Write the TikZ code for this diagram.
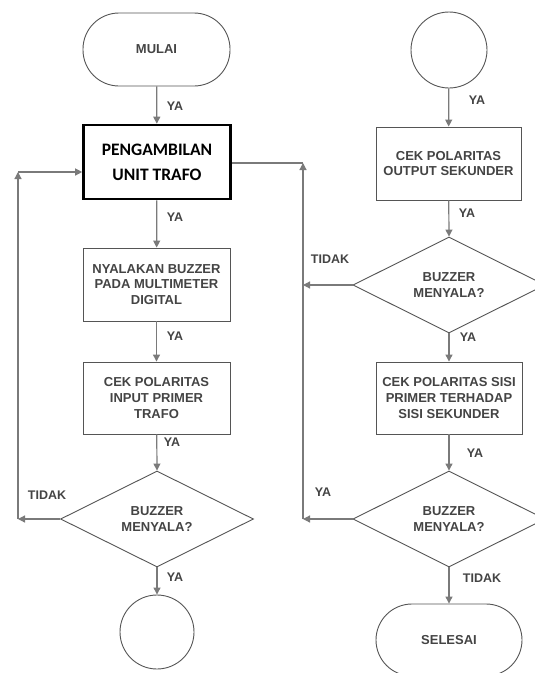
\documentclass[tikz,border=0pt]{standalone}
\usepackage{fontspec}
\setmainfont{Liberation Sans}
\newfontfamily\pengfont{Carlito}
\usetikzlibrary{shapes.geometric,arrows.meta}
\definecolor{txtgray}{HTML}{444444}
\definecolor{linegray}{HTML}{7A7A7A}
\definecolor{boxgray}{HTML}{555555}
\tikzset{
  procbox/.style={draw=boxgray, line width=0.9pt, minimum width=147pt, minimum height=73pt, inner sep=0pt,
    align=center, text=txtgray, font=\bfseries\fontsize{13}{15.7}\selectfont},
  termbox/.style={procbox, rounded corners=36pt},
  decbox/.style={draw=boxgray, line width=0.9pt, diamond, minimum width=193pt, minimum height=96pt, inner sep=0pt,
    align=center, text=txtgray, font=\bfseries\fontsize{13}{15.7}\selectfont},
  connbox/.style={draw=boxgray, line width=0.9pt, circle, minimum size=75pt, inner sep=0pt},
  flow/.style={draw=linegray, line width=1.2pt, -{Triangle[length=7pt,width=7pt]}},
  plain/.style={draw=linegray, line width=1.2pt},
  lbl/.style={text=txtgray, font=\bfseries\fontsize{12.5}{14}\selectfont, inner sep=0pt}
}
\begin{document}
\begin{tikzpicture}[x=1pt,y=-1pt]
\useasboundingbox (0,0) rectangle (535,673);
\fill[white] (0,0) rectangle (535,673);
% left column
\node[termbox] (mulai) at (156.5,49.5) {MULAI};
\node[draw=black, line width=2.6pt, minimum width=147pt, minimum height=74pt, inner sep=0pt, align=center,
  font=\pengfont\bfseries\fontsize{17.5}{25}\selectfont] (peng) at (157,162) {PENGAMBILAN\\UNIT TRAFO};
\node[procbox] (nyal) at (156.5,284.5) {NYALAKAN BUZZER\\PADA MULTIMETER\\DIGITAL};
\node[procbox, minimum height=72pt] (cekin) at (156.5,398) {CEK POLARITAS\\INPUT PRIMER\\TRAFO};
\node[decbox] (dia1) at (157,519) {BUZZER\\MENYALA?};
\node[connbox, minimum size=74pt] (circ1) at (157,632) {};
% right column
\node[connbox, minimum size=76pt] (circ2) at (449,50) {};
\node[procbox, minimum width=145pt] (cekout) at (448.5,163.5) {CEK POLARITAS\\OUTPUT SEKUNDER};
\node[decbox, minimum width=192pt] (dia2) at (449,285) {BUZZER\\MENYALA?};
\node[procbox, minimum width=146pt, minimum height=72pt] (ceksisi) at (449,398) {CEK POLARITAS SISI\\PRIMER TERHADAP\\SISI SEKUNDER};
\node[decbox, minimum width=192pt] (dia3) at (449,519) {BUZZER\\MENYALA?};
\node[termbox, minimum width=146pt, minimum height=72pt] (selesai) at (449,640) {SELESAI};
% coordinates for loops
\coordinate (L1) at (18,519);
\coordinate (L2) at (18,172);
\coordinate (R1) at (303,285);
\coordinate (R2) at (303,163);
\coordinate (R3) at (303,519);
% left flow
\draw[flow] (mulai) -- (peng);
\draw[flow] (peng) -- (nyal);
\draw[flow] (nyal) -- (cekin);
\draw[flow] (cekin) -- (dia1.north);
\draw[flow] (dia1.south) -- (circ1);
\draw[flow] (dia1.west) -- (L1);
\draw[flow] (L1) -- (L2);
\draw[flow] (L2) -- (L2 -| peng.west);
% right flow
\draw[flow] (circ2) -- (cekout);
\draw[flow] (cekout) -- (dia2.north);
\draw[flow] (dia2.south) -- (ceksisi);
\draw[flow] (ceksisi) -- (dia3.north);
\draw[flow] (dia3.south) -- (selesai);
\draw[flow] (dia2.west) -- (R1);
\draw[flow] (dia3.west) -- (R3);
\draw[flow] (R3) -- (R2);
\draw[plain] (R2) -- (R2 -| peng.east);
% labels
\node[lbl] (y1) at (175,106) {YA};
\node[lbl] (y2) at (175,217) {YA};
\node[lbl] (y3) at (175,336) {YA};
\node[lbl] (y4) at (172,442) {YA};
\node[lbl] (y5) at (175,577) {YA};
\node[lbl] (t1) at (47,495) {TIDAK};
\node[lbl] (y6) at (477,100) {YA};
\node[lbl] (y7) at (467,213) {YA};
\node[lbl] (t2) at (330,259) {TIDAK};
\node[lbl] (y8) at (468,337) {YA};
\node[lbl] (y9) at (475,453) {YA};
\node[lbl] (y10) at (323,492) {YA};
\node[lbl] (t3) at (482,578) {TIDAK};
\end{tikzpicture}
\end{document}
